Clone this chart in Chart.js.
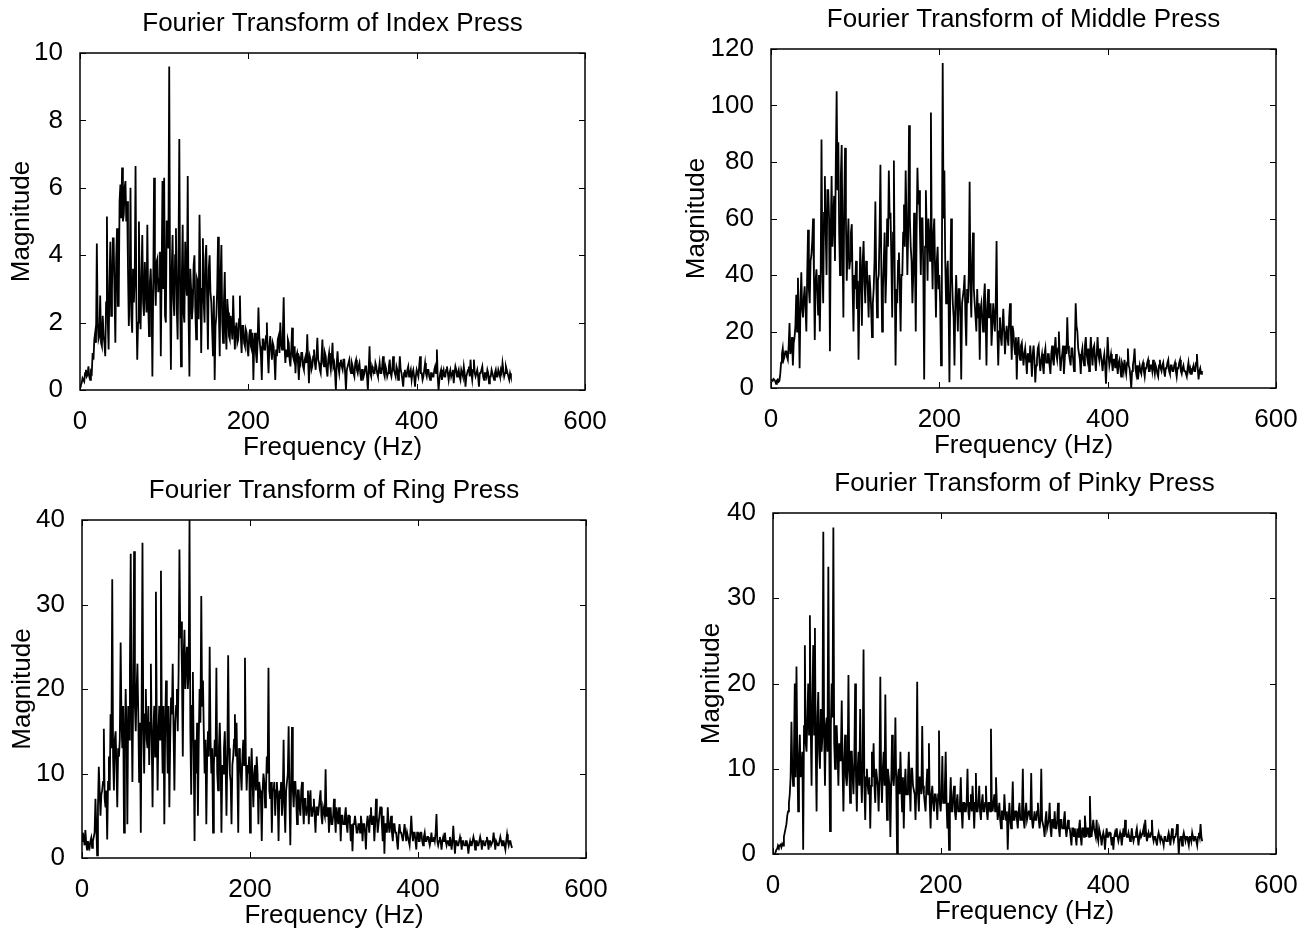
<!DOCTYPE html>
<html><head><meta charset="utf-8">
<script src="https://cdn.jsdelivr.net/npm/chart.js@4.4.1/dist/chart.umd.min.js"></script>
<style>
html,body{margin:0;padding:0;background:#fff;}
body{width:1315px;height:936px;position:relative;overflow:hidden;}
canvas{position:absolute;}
</style></head><body>
<canvas id="c1"></canvas><canvas id="c2"></canvas><canvas id="c3"></canvas><canvas id="c4"></canvas>
<script>
// Frequency bins (Hz), 1 Hz apart
const FREQ = [
0,1,2,3,4,5,6,7,8,9,10,11,12,13,14,15,16,17,18,19,20,21,22,23,24,25,26,27,28,29,30,31,32,33,34,35,36,37,38,39,
40,41,42,43,44,45,46,47,48,49,50,51,52,53,54,55,56,57,58,59,60,61,62,63,64,65,66,67,68,69,70,71,72,73,74,75,76,77,78,79,
80,81,82,83,84,85,86,87,88,89,90,91,92,93,94,95,96,97,98,99,100,101,102,103,104,105,106,107,108,109,110,111,112,113,114,115,116,117,118,119,
120,121,122,123,124,125,126,127,128,129,130,131,132,133,134,135,136,137,138,139,140,141,142,143,144,145,146,147,148,149,150,151,152,153,154,155,156,157,158,159,
160,161,162,163,164,165,166,167,168,169,170,171,172,173,174,175,176,177,178,179,180,181,182,183,184,185,186,187,188,189,190,191,192,193,194,195,196,197,198,199,
200,201,202,203,204,205,206,207,208,209,210,211,212,213,214,215,216,217,218,219,220,221,222,223,224,225,226,227,228,229,230,231,232,233,234,235,236,237,238,239,
240,241,242,243,244,245,246,247,248,249,250,251,252,253,254,255,256,257,258,259,260,261,262,263,264,265,266,267,268,269,270,271,272,273,274,275,276,277,278,279,
280,281,282,283,284,285,286,287,288,289,290,291,292,293,294,295,296,297,298,299,300,301,302,303,304,305,306,307,308,309,310,311,312,313,314,315,316,317,318,319,
320,321,322,323,324,325,326,327,328,329,330,331,332,333,334,335,336,337,338,339,340,341,342,343,344,345,346,347,348,349,350,351,352,353,354,355,356,357,358,359,
360,361,362,363,364,365,366,367,368,369,370,371,372,373,374,375,376,377,378,379,380,381,382,383,384,385,386,387,388,389,390,391,392,393,394,395,396,397,398,399,
400,401,402,403,404,405,406,407,408,409,410,411,412,413,414,415,416,417,418,419,420,421,422,423,424,425,426,427,428,429,430,431,432,433,434,435,436,437,438,439,
440,441,442,443,444,445,446,447,448,449,450,451,452,453,454,455,456,457,458,459,460,461,462,463,464,465,466,467,468,469,470,471,472,473,474,475,476,477,478,479,
480,481,482,483,484,485,486,487,488,489,490,491,492,493,494,495,496,497,498,499,500,501,502,503,504,505,506,507,508,509,510,511,512];

const INDEX_MAG = [
0.1,0.15,0.2,0.35,0.3,0.25,0.5,0.6,0.4,0.45,
0.7,0.4,0.3,0.55,0.5,1.1,0.9,1.5,1.7,1.4,
4.35,2.0,1.5,1.6,2.8,1.4,1.3,2.2,1.6,1.4,
1.0,2.6,5.15,2.0,1.2,3.1,4.4,2.2,3.0,4.5,
4.5,2.8,1.4,3.9,4.8,2.5,2.5,5.6,6.1,5.1,
6.6,5.0,5.2,6.0,6.2,5.0,5.6,3.6,1.9,2.9,
6.0,2.2,1.7,3.6,2.6,3.3,6.65,2.5,0.9,2.0,
5.0,2.9,1.8,3.4,4.6,2.6,2.2,3.8,3.0,2.3,
4.9,2.6,1.6,3.2,3.6,2.8,0.4,3.0,6.3,3.4,
2.5,3.8,3.9,2.9,3.3,4.1,1.0,3.5,6.2,3.0,
6.3,2.2,2.0,5.0,5.0,4.2,9.6,3.0,0.6,3.6,
4.6,2.7,2.2,4.0,4.8,2.4,1.5,3.9,7.45,2.6,
0.7,3.4,4.9,2.3,2.0,4.4,3.3,2.8,6.35,2.2,
0.4,3.6,3.0,2.1,2.5,3.7,4.0,2.4,1.5,3.3,
3.2,2.1,5.2,3.4,1.1,3.0,4.5,2.6,2.0,3.9,
4.3,2.7,1.2,3.6,4.0,2.9,2.6,1.8,1.0,2.8,
0.3,1.9,2.2,3.0,4.55,2.3,1.0,3.4,4.3,2.0,
1.4,2.6,3.5,1.8,1.2,2.7,2.3,1.6,1.5,2.2,
1.9,1.5,2.8,1.9,1.2,1.8,2.0,1.4,1.5,2.1,
2.8,1.6,1.1,1.9,1.9,1.4,1.3,1.8,1.7,1.2,
1.0,1.6,1.8,1.3,1.2,1.7,0.3,1.4,1.7,1.1,
0.8,1.4,2.45,1.6,1.3,1.0,0.3,1.5,1.5,1.2,
1.2,1.6,2.0,1.1,0.5,1.3,1.6,1.2,0.9,1.4,
1.3,0.9,0.3,1.2,1.0,1.5,1.6,1.1,2.0,1.4,
1.2,1.7,2.75,1.3,0.8,1.2,1.0,1.5,1.4,0.9,
0.7,1.2,1.85,1.0,0.9,1.3,0.5,1.0,1.1,0.8,
0.3,0.9,0.8,1.1,1.1,0.7,0.6,0.9,1.0,0.8,
1.65,0.9,0.2,1.0,0.9,0.6,0.7,1.0,1.2,0.8,
0.6,1.0,1.55,0.9,0.8,0.6,0.5,1.0,1.5,0.8,
0.7,1.1,1.0,0.6,0.4,0.9,1.1,0.8,0.6,0.9,
1.4,0.7,0.8,0.5,0.0,0.8,1.15,0.7,0.5,0.8,
0.9,0.7,0.6,0.9,0.9,0.5,0.0,0.6,0.7,0.8,
0.9,0.6,0.5,0.8,0.7,0.5,0.4,0.8,0.9,0.6,
0.5,0.7,0.8,0.5,0.3,0.6,0.6,0.4,0.5,0.7,
0.7,0.4,0.0,0.6,1.3,0.5,0.4,0.7,0.6,0.5,
0.5,0.8,0.7,0.5,0.4,0.6,0.8,0.5,0.5,0.7,
1.0,0.5,0.4,0.7,0.6,0.4,0.5,0.7,0.9,0.5,
0.4,0.6,1.0,0.6,0.5,0.4,0.7,0.6,0.3,0.5,
1.0,0.6,0.5,0.3,0.1,0.5,0.6,0.4,0.4,0.6,
0.7,0.4,0.5,0.6,0.3,0.5,0.6,0.4,0.1,0.4,
0.6,0.5,0.4,0.7,1.0,0.5,0.5,0.3,0.4,0.6,
0.8,0.5,0.4,0.6,0.6,0.4,0.3,0.5,0.5,0.4,
0.4,0.6,0.7,0.5,1.2,0.4,0.0,0.3,0.5,0.6,
0.3,0.5,0.6,0.4,0.4,0.6,0.7,0.5,0.3,0.5,
0.6,0.4,0.5,0.6,0.2,0.5,0.7,0.6,0.4,0.5,
0.6,0.4,0.3,0.6,0.5,0.4,0.7,0.5,0.1,0.4,
0.5,0.6,0.7,0.4,0.9,0.5,0.3,0.6,0.9,0.5,
0.4,0.5,0.6,0.4,0.1,0.5,0.5,0.6,0.7,0.4,
0.3,0.5,0.5,0.4,0.6,0.5,0.2,0.4,0.4,0.6,
0.5,0.4,0.3,0.5,0.6,0.4,0.4,0.6,0.5,0.4,
0.6,0.5,0.8,0.6,0.4,0.5,0.7,0.6,0.5,0.4,
0.3,0.5,0.4];

const MIDDLE_MAG = [
3,2.8,2.5,3.2,3,2.4,1.5,2.6,3,2.2,
2.5,5,9,12,14,10,11,13,13,11,
10,15,23,12,14,18,8,16,18,22,
33,20,39,25,7,30,41,28,25,32,
36,28,20,40,56,35,30,45,47,52,
60,40,17,38,42,35,26,40,20,38,
88,45,30,62,75,55,40,70,70,60,
13,55,75,50,60,68,45,80,105,70,
87,55,40,75,86,50,25,65,85,60,
38,50,60,42,45,55,58,35,20,40,
35,45,28,38,10,32,50,40,22,45,
52,38,30,45,42,35,25,40,35,28,
18,30,35,45,66,40,25,38,40,55,
79,45,20,35,45,55,30,40,60,50,
77,60,62,45,25,55,80.5,40,8,35,
30,45,48,35,20,40,40,55,65,50,
77,60,40,55,93,60,50,45,30,40,
62,45,20,55,78,65,70,55,40,60,
60,40,3,50,70,55,38,60,55,45,
97.5,50,35,55,60,40,25,45,50,35,
40,30,8,40,115,60,77,45,30,40,
45,30,2,35,60,40,30,25,8,30,
40,30,20,35,35,25,3,30,30,35,
40,25,15,35,30,40,73,35,25,45,
55,35,30,25,20,35,25,30,10,28,
30,25,20,32,37,25,8,28,35,25,
25,30,15,22,30,25,20,30,52,20,
8,20,25,18,15,22,28,20,12,18,
22,18,15,25,30,20,10,22,20,15,
12,18,3,15,18,12,10,15,16,12,
8,12,14,10,5,12,12,9,15,10,
4,12,15,10,2,8,10,14,15,9,
6,10,12,8,5,12,14,9,9,12,
12,8,5,12,15,10,8,14,18,12,
10,14,20,12,6,10,12,15,5,10,
15,12,25,15,12,10,8,14,14,10,
6,15,30,22,20,14,12,10,5,12,
14,10,8,15,18,12,10,14,6,12,
18,12,8,14,15,10,6,12,18,12,
10,14,14,9,6,10,12,8,1.5,10,
18,12,8,10,12,9,6,10,10,7,
12,8,5,9,10,7,4,9,8,6,
10,7,5,9,14,8,7,4,0,6,
8,10,14,7,5,8,3,6,8,6,
5,8,9,6,4,7,7,9,10,6,
6,8,8,6,10,7,5,8,7,5,
4,8,10,7,6,8,9,6,4,7,
7,9,10,6,5,8,8,6,6,8,
9,6,4,7,7,9,10,6,5,7,
8,6,6,5,4,7,9,6,7,5,
5,7,8,6,6,9,12,7,3,6,
7,5,6];

const RING_MAG = [
2,3,2.5,1.5,3.3,1.8,1,2,1.5,1.2,
2,2.4,1.2,2,2.5,3,7,4,0.3,6,
10.8,8,5,7.5,8,9,15.3,7,6,8,
2.2,9,12,8,17,13,33,12,8,14,
15,11,6,13,12,14,25.5,16,13,18,
3,14,20,15,4,18,14,22,36,18,
9,20,36.3,18,15,20,23,17,9,16,
3,18,37.3,15,10,17,20,14,13,18,
11,16,23,14,6,15,18,12,31.5,16,
8,15,18,14,34,16,10,18,4,15,
21,16,10,18,6,14,19,17,23,15,
8,16,18,20,15,22,36.5,26,28,22,
12,24,27,20,23,25,20,22,40,15,
7.5,18,22,12,2,14,10,16,5,14,
20,16,31,18,21,15,10,14,4,12,
15,12,25,14,10,13,3,11,14,12,
22.5,10,8,13,16,12,3,11,10,13,
15,11,5,12,24,13,10,9,4,11,
12,14,17,12,16,10,3,13,12,10,
8,12,14,11,23.7,12,8,11,10,12,
3,10,13,9,6,10,11,8,12,10,
4,9,8,7,2,8,10,9,6,8,
12,10,22.5,8,7,9,3,8,8,9,
5,8,9,7,2,8,7,9,5,7,
14,6,3,8,8,10,15.6,7,1.5,9,
15.5,8,6,9,9,7,4,8,8,6,
5,8,9,6,4,7,7,5,6,8,
4,7,8,5,5,6,7,5,3,6,
6,5,5,7,8,5,4,6,6,5,
10.5,5,5,6,3,5,6,4,4,5,
7,5,3,6,5,4,6,5,2,5,
5,4,4,5,6,4,3,5,5,4,
2,4,0.8,4,4,5,5,3,3,4,
4,3,5,4,2,4,4,3,1,4,
5,4,3,5,6,4,4,5,2,4,
7,5,3,4,5,6,6,4,2,5,
0.5,4,4,3,6,4,3,4,5,3,
2,4,4,3,3,2,1,3,4,3,
3,2.5,2,3,4,3,2,3,3,2,
1.5,3,5,3,2,3,3,2,1,3,
3,2,2,3,3,2,1.5,2.5,3,2,
2,2.5,2.5,2,1.5,2,3,2,2,2.5,
2,3,5.2,2,1.5,2,2.5,2,1,2,
2.5,2,3,2,1.5,2,2,1.5,2.5,2,
1,2,3.8,2,0.5,2,2,1.5,1.5,2,
2.5,2,1,2,2,1.5,1.5,2,2,1.5,
0.5,1.5,2,1.5,1.5,2,2.5,2,1,2,
2,1.5,1.5,2,2.5,2,1,2,2,1.5,
1.5,2,2.5,2,1,2,2,1.5,1.5,2,
3,2,1,2,2,1.5,1.5,2,2.5,2,
1.5,2,2,1.5,1,2,2.8,2,1.5,2,
2,1.5,1.2];

const PINKY_MAG = [
0,0,0,0.2,0.5,0.6,1,0.8,1,1.1,
0.8,1.2,1,2,2.5,3,3.5,4.5,5,6,
7,9,15.5,10,8,12,20,9,22,12,
5,11,14,9,10,12,0.5,15,24.5,13,
12,16,20,14,28,15,8,18,24.5,14,
26.5,12,5,16,19,12,10,17,12,14,
37.8,14,8,15,16,12,33.7,14,2.7,15,
20,16,38.3,13,10,15,15,12,8,13,
11,12,18,10,5,11,14,9,8,10,
21,10,6,12,12,9,7,11,20,9,
5,10,12,8,17,9,6,11,24,8,
4,9,10,8,7,9,3,8,12,9,
13,8,6,10,10,8,5,9,20.8,9,
6,10,12,8,18.7,9,4,10,9,8,
2,8,14,9,8,10,16,8,0,9,
10,7,12,8,5,9,3,8,10,7,
7,9,12,8,5,10,10,8,8,7,
4,8,20.2,7,5,9,9,7,15,8,
7,6,5,8,10,7,13,6,3,7,
8,6,5,7,7,6,4,7,14.5,6,
5,7,11.5,6,6,8,12,6,3,6,
0.5,6,9,5,5,7,8,5,4,6,
7,5,5,6,9,5,3,6,6,5,
5,6,10,5,4,6,7,5,8,6,
3,6,9.5,5,5,6,8,5,4,6,
7,5,5,6,8,5,4,6,6,5,
14.7,6,5,6,7,5,9,6,4,5,
6,4,3,5,5,4,7,5,4,5,
0.5,4,6,4,3,5,8.5,4,4,5,
5,4,3,5,6,4,4,5,10,4,
3,5,6,4,4,5,5,4,9.5,4,
3,4,5,4,4,5,6,4,3,4,
10,4,4,3,2,4,5,3,3,4,
6,3,2,4,4,3,5,3,3,4,
6,3,2,4,4,3,3,4,5,3,
2,3,4,3,3,2,1,3,3,2,
3,2,1,3,2,3,4,2,1,3,
3,2,4.5,3,2,3,3,2,6.8,3,
2,3,4,3,2.5,2,4,2,1.5,3,
3,2,1,2,2.5,2,0.5,2,3,2,
2,2.5,2.5,2,1,2,0.5,2,2.5,2,
3,2,1.5,2,2.5,2,1,2,3,2,
4,2.5,2,2,2.5,2,1.5,2,3,2,
1.5,2,2,2.5,3,2,1,2,2.5,2,
2,2.5,3,2,4,2.5,1.5,2,2.5,2,
2,2.5,4,2,1.5,2,2,1.5,1,2,
2.5,2,1.5,2,2,1.5,1,2,2,1.5,
1.5,2,2.5,2,1,2,3,2,1.5,2,
2,2.5,3.5,2,0,1.5,2,2,1,2,
2.5,2,1.5,2,2,1.5,1,2,2,1.5,
2.5,2,1.5,2,2,1.5,1,2,2.5,2,
3.5,2,1.5];

const TITLES = ['Fourier Transform of Index Press','Fourier Transform of Middle Press','Fourier Transform of Ring Press','Fourier Transform of Pinky Press'];
const X_TICKS = [0,200,400,600];
const INDEX_Y_TICKS = [0,2,4,6,8,10];
const MIDDLE_Y_TICKS = [0,20,40,60,80,100,120];
const RING_Y_TICKS = [0,10,20,30,40];
const PINKY_Y_TICKS = [0,10,20,30,40];
const X_LABEL = 'Frequency (Hz)';
const Y_LABEL = 'Magnitude';

const FONT = '"Liberation Sans", Arial, Helvetica, sans-serif';

const matlabAxes = {
  id: 'matlabAxes',
  afterDatasetsDraw(chart) {
    const {ctx, chartArea: a, scales: {x, y}} = chart;
    ctx.save();
    ctx.strokeStyle = '#000';
    ctx.lineWidth = 1.5;
    ctx.strokeRect(a.left, a.top, a.right - a.left, a.bottom - a.top);
    ctx.beginPath();
    const TL = 6;
    x.ticks.forEach(t => { const px = Math.round(x.getPixelForValue(t.value)) + 0.5;
      ctx.moveTo(px, a.bottom); ctx.lineTo(px, a.bottom - TL);
      ctx.moveTo(px, a.top); ctx.lineTo(px, a.top + TL); });
    y.ticks.forEach(t => { const py = Math.round(y.getPixelForValue(t.value)) + 0.5;
      ctx.moveTo(a.left, py); ctx.lineTo(a.left + TL, py);
      ctx.moveTo(a.right, py); ctx.lineTo(a.right - TL, py); });
    ctx.lineWidth = 1;
    ctx.stroke();
    ctx.restore();
  }
};

function makeChart(id, g, title, values, yTicks) {
  const canvas = document.getElementById(id);
  const W = g.yw + (g.R - g.L) + 45;
  const H = 50 + (g.B - g.T) + 80;
  canvas.width = W; canvas.height = H;
  canvas.style.left = (g.L - g.yw) + 'px';
  canvas.style.top = (g.T - 50) + 'px';
  canvas.style.width = W + 'px';
  canvas.style.height = H + 'px';
  const n = Math.min(FREQ.length, values.length);
  const pts = [];
  for (let i = 0; i < n; i++) pts.push({x: FREQ[i], y: values[i]});
  return new Chart(canvas, {
    type: 'line',
    data: { datasets: [{ data: pts, borderColor: '#000', borderWidth: 1.8, pointRadius: 0, tension: 0, fill: false }] },
    options: {
      responsive: false, animation: false, devicePixelRatio: 1, events: [],
      layout: { padding: { left: 0, top: 0, right: 45, bottom: 0 } },
      plugins: {
        legend: { display: false }, tooltip: { enabled: false },
        title: { display: true, fullSize: false, text: title, color: '#000',
          font: { family: FONT, size: 26, weight: 'normal' }, padding: { top: 5, bottom: 13.8 } }
      },
      scales: {
        x: {
          type: 'linear', min: X_TICKS[0], max: X_TICKS[X_TICKS.length - 1],
          afterBuildTicks: s => { s.ticks = X_TICKS.map(v => ({ value: v })); },
          afterFit: s => { s.height = 80; },
          grid: { display: false }, border: { display: false },
          ticks: { color: '#000', font: { family: FONT, size: 26 }, padding: 8, maxRotation: 0, autoSkip: false },
          title: { display: true, text: X_LABEL, color: '#000', font: { family: FONT, size: 26 }, padding: { top: 0, bottom: 7 } }
        },
        y: {
          type: 'linear', min: yTicks[0], max: yTicks[yTicks.length - 1],
          afterBuildTicks: s => { s.ticks = yTicks.map(v => ({ value: v })); },
          afterFit: s => { s.width = g.yw; },
          grid: { display: false }, border: { display: false },
          ticks: { color: '#000', font: { family: FONT, size: 26 }, padding: 9, autoSkip: false },
          title: { display: true, text: Y_LABEL, color: '#000', font: { family: FONT, size: 26 }, padding: { top: g.yp, bottom: 0 } }
        }
      }
    },
    plugins: [matlabAxes]
  });
}

makeChart('c1', { L: 80, T: 53, R: 585, B: 390, yw: 80, yp: 6 }, TITLES[0], INDEX_MAG, INDEX_Y_TICKS);
makeChart('c2', { L: 771, T: 49, R: 1276, B: 388, yw: 95, yp: 5 }, TITLES[1], MIDDLE_MAG, MIDDLE_Y_TICKS);
makeChart('c3', { L: 82, T: 520, R: 586, B: 858, yw: 80, yp: 5 }, TITLES[2], RING_MAG, RING_Y_TICKS);
makeChart('c4', { L: 773, T: 513, R: 1276, B: 854, yw: 80, yp: 3 }, TITLES[3], PINKY_MAG, PINKY_Y_TICKS);
</script>
</body></html>
